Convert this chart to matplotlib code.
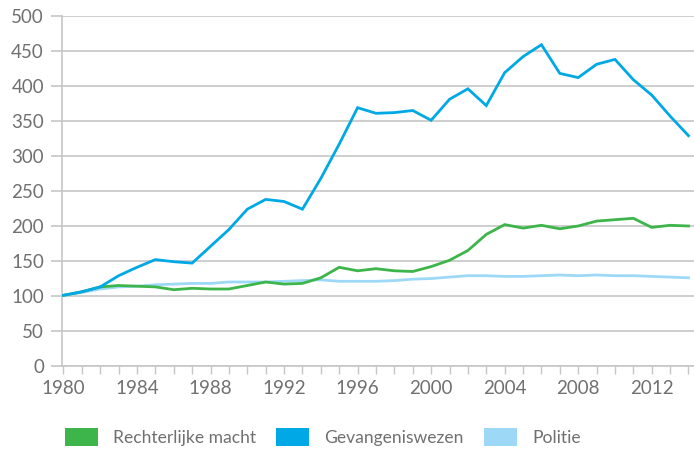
import numpy as np
import matplotlib.pyplot as plt
from matplotlib.patches import Patch

years = list(range(1980, 2015))

rechterlijke_macht = [101, 106, 113, 115, 114, 113, 109, 111, 110, 110, 115, 120, 117, 118, 126, 141,
                      136, 139, 136, 135, 142, 151, 165, 188, 202, 197, 201, 196, 200, 207, 209, 211,
                      198, 201, 200]
gevangeniswezen = [101, 106, 113, 129, 141, 152, 149, 147, 171, 195, 224, 238, 235, 224, 268, 317,
                   369, 361, 362, 365, 351, 381, 396, 372, 419, 442, 459, 418, 412, 431, 438, 409,
                   387, 357, 329]
politie = [101, 105, 110, 113, 114, 116, 117, 118, 118, 120, 120, 120, 121, 122, 123, 121,
           121, 121, 122, 124, 125, 127, 129, 129, 128, 128, 129, 130, 129, 130, 129, 129,
           128, 127, 126]

series_names = ["Rechterlijke macht", "Gevangeniswezen", "Politie"]
colors = ["#3db54a", "#00a9e6", "#9dd9f7"]
tick_years = [1980, 1984, 1988, 1992, 1996, 2000, 2004, 2008, 2012]

text_col = "#707070"
grid_col = "#c6c6c6"
plt.rcParams['font.family'] = ['Lato', 'DejaVu Sans']

fig = plt.figure(figsize=(6.94, 4.5), dpi=100)
ax = fig.add_axes([62 / 694, 84 / 450, 632 / 694, 350 / 450])

# draw light line first so the others lie on top
for vals, c in [(politie, colors[2]), (rechterlijke_macht, colors[0]), (gevangeniswezen, colors[1])]:
    ax.plot(years, vals, color=c, lw=2.0, solid_joinstyle='miter', zorder=3)

ax.set_xlim(1979.92, 2014.3)
ax.set_ylim(0, 500)
ax.set_yticks(np.arange(0, 501, 50))
ax.yaxis.grid(True, color=grid_col, lw=1.2)
ax.set_axisbelow(True)

ax.set_xticks(tick_years)
ax.set_xticks(years, minor=True)
ax.tick_params(axis='x', which='both', length=6, width=1, color=grid_col,
               labelsize=13.5, labelcolor=text_col, pad=4)
ax.tick_params(axis='y', length=8, width=1.2, color=grid_col,
               labelsize=13.5, labelcolor=text_col, pad=5)

for s in ["top", "right"]:
    ax.spines[s].set_visible(False)
for s in ["left", "bottom"]:
    ax.spines[s].set_color(grid_col)
    ax.spines[s].set_linewidth(1.2)

handles = [Patch(facecolor=c, edgecolor='none') for c in colors]
fig.legend(handles, series_names, loc='center left', bbox_to_anchor=(49 / 694, 1 - 437 / 450),
           ncol=3, frameon=False, fontsize=12.6, labelcolor=text_col,
           handlelength=1.9, handleheight=1.2, handletextpad=0.85, columnspacing=1.15)

fig.savefig("out.png", dpi=100)
